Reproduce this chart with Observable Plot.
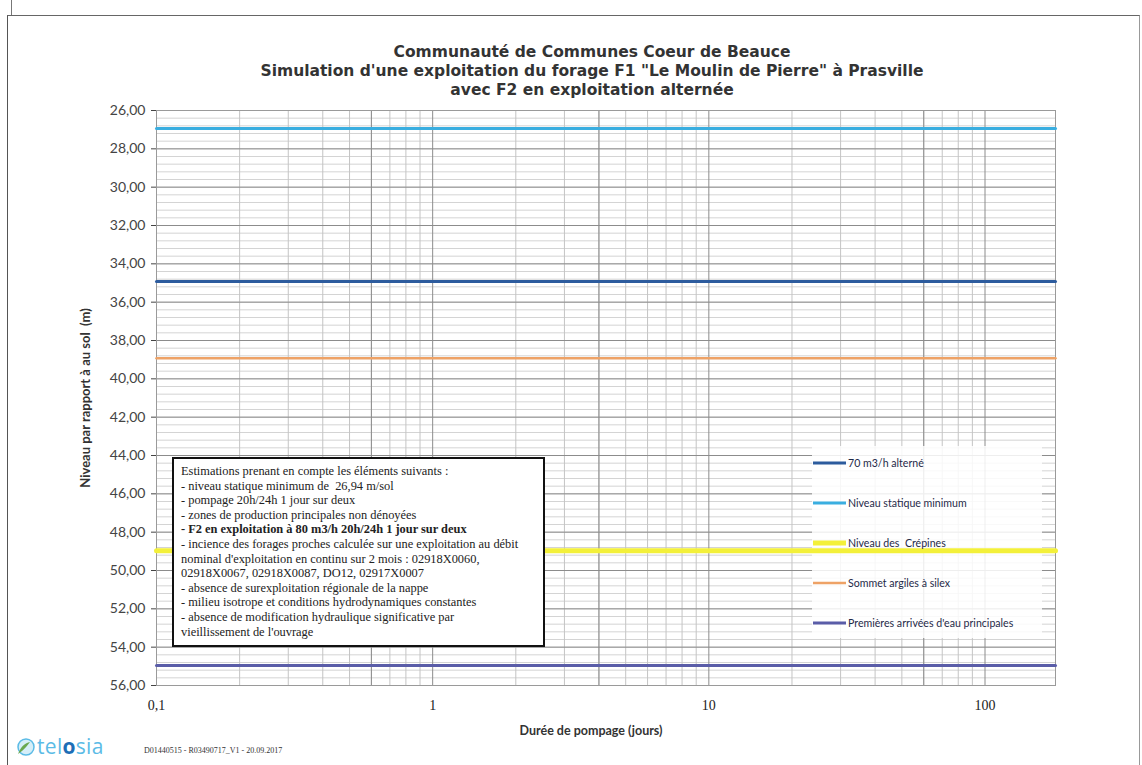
<!DOCTYPE html>
<html>
<head>
<meta charset="utf-8">
<script src="https://cdn.jsdelivr.net/npm/d3@7"></script>
<script src="https://cdn.jsdelivr.net/npm/@observablehq/plot@0.6"></script>
<style>
  html, body { margin: 0; padding: 0; background: #fff; }
  #wrap { position: relative; width: 1142px; height: 765px; overflow: hidden; }
  #chart { position: absolute; left: 0; top: 0; }
  .pageframe { position: absolute; left: 7px; top: 15px; width: 1133px; height: 760px;
    border-left: 1.5px solid #555; border-top: 1.5px solid #666; border-right: 1px solid #999; box-sizing: border-box; }
  .topmark { position: absolute; left: 11px; top: 0; width: 1px; height: 15px; background: #777; }
  #note { position: absolute; left: 172px; top: 457px; width: 373px; height: 190px; box-sizing: border-box;
    background: #fff; border: 2px solid #111; padding: 5px 7px;
    font-family: "Liberation Serif", "DejaVu Serif", serif; font-size: 12.4px; line-height: 14.6px; color: #222; white-space: pre; }
  #note b { font-weight: bold; }
  #logo { position: absolute; left: 15px; top: 736px; display: flex; align-items: center; }
  #logo .word { font-family: "Open Sans", sans-serif; font-size: 21px; font-weight: 400; color: #5bbbe6; letter-spacing: 0.3px; line-height: 21px; }
  #logo .word .o { color: #1d6eb6; font-weight: 700; }
  #ref { position: absolute; left: 144px; top: 746px; font-family: "Liberation Serif", serif; font-size: 8px; color: #333; }
</style>
</head>
<body>
<div id="wrap">
  <div id="chart"></div>
  <div class="pageframe"></div>
  <div class="topmark"></div>
  <div id="note"></div>
  <div id="logo">
    <svg width="22" height="20" viewBox="0 0 22 20">
      <circle cx="11" cy="10" r="8" fill="#d6eef8" stroke="#5bbbe6" stroke-width="1.5"/>
      <path d="M3 17 C 6 9, 10 6, 15 5 C 12 9, 9 13, 3 17 Z" fill="#6aa84f"/>
    </svg>
    <span class="word">tel<span class="o">o</span>sia</span>
  </div>
  <div id="ref">D01440515 - R03490717_V1 - 20.09.2017</div>
</div>
<script>
// ---- Data ----
const days = [0.1, 1, 10, 100, 180];
const seriesNames = [
  "70 m3/h alterné",
  "Niveau statique minimum",
  "Niveau des  Crépines",
  "Sommet argiles à silex",
  "Premières arrivées d'eau principales"
];
const alterne70 = [34.92, 34.92, 34.92, 34.92, 34.92];
const statiqueMin = [26.94, 26.94, 26.94, 26.94, 26.94];
const crepines = [48.97, 48.97, 48.97, 48.97, 48.97];
const argilesSilex = [38.92, 38.92, 38.92, 38.92, 38.92];
const arriveesEau = [54.95, 54.95, 54.95, 54.95, 54.95];
const seriesValues = [alterne70, statiqueMin, crepines, argilesSilex, arriveesEau];

const yTicks = [26, 28, 30, 32, 34, 36, 38, 40, 42, 44, 46, 48, 50, 52, 54, 56];
const xTicks = [0.1, 1, 10, 100];
const xTickLabels = ["0,1", "1", "10", "100"];
const xGridMinor = [0.2, 0.3, 0.4, 0.5, 0.6, 0.7, 0.8, 0.9, 2, 3, 4, 5, 6, 7, 8, 9, 20, 30, 40, 50, 60, 70, 80, 90];
const xGridDark = [0.6, 1, 4, 10, 60, 100];
const yGridMinor = d3.range(26, 56.001, 0.4);

const titleText = "Communauté de Communes Coeur de Beauce\nSimulation d'une exploitation du forage F1 \"Le Moulin de Pierre\" à Prasville\navec F2 en exploitation alternée";
const yLabel = "Niveau par rapport à au sol  (m)";
const xLabel = "Durée de pompage (jours)";

const noteLines = [
  "Estimations prenant en compte les éléments suivants :",
  "- niveau statique minimum de  26,94 m/sol",
  "- pompage 20h/24h 1 jour sur deux",
  "- zones de production principales non dénoyées",
  "<b>- F2 en exploitation à 80 m3/h 20h/24h 1 jour sur deux</b>",
  "- incience des forages proches calculée sur une exploitation au débit",
  "nominal d'exploitation en continu sur 2 mois : 02918X0060,",
  "02918X0067, 02918X0087, DO12, 02917X0007",
  "- absence de surexploitation régionale de la nappe",
  "- milieu isotrope et conditions hydrodynamiques constantes",
  "- absence de modification hydraulique significative par",
  "vieillissement de l'ouvrage"
];

// ---- Styles ----
const colors = ["#2d5c9e", "#3aaee0", "#f3f03a", "#eea266", "#5a5da8"];
const widths = [3, 3, 5, 2.5, 3];

const rows = [];
seriesNames.forEach((name, i) => {
  days.forEach((d, j) => rows.push({series: name, day: d, level: seriesValues[i][j]}));
});

document.getElementById("note").innerHTML = noteLines.join("\n");

function legendBg() {
  return d3.create("svg:rect")
    .attr("x", 812).attr("y", 446).attr("width", 230).attr("height", 192)
    .attr("fill", "white").attr("fill-opacity", 0.85).node();
}
function legendContent() {
  const g = d3.create("svg:g").attr("text-anchor", "start");
  seriesNames.forEach((name, i) => {
    const y = 463 + i * 40;
    g.append("line").attr("x1", 813).attr("x2", 846).attr("y1", y).attr("y2", y)
      .attr("stroke", colors[i]).attr("stroke-width", widths[i]);
    g.append("text").attr("x", 848).attr("y", y).attr("dy", "0.35em")
      .attr("text-anchor", "start")
      .attr("font-family", "Lato, sans-serif").attr("font-size", 10.6)
      .attr("fill", "#1f2a48").style("white-space", "pre").text(name);
  });
  return g.node();
}

const lineMarks = seriesNames.map((name, i) =>
  Plot.line(rows.filter(r => r.series === name), {x: "day", y: "level", stroke: colors[i], strokeWidth: widths[i]})
);

const chart = Plot.plot({
  width: 1142,
  height: 765,
  marginTop: 110,
  marginLeft: 156,
  marginRight: 87,
  marginBottom: 80,
  style: {fontFamily: "Lato, sans-serif", background: "white", color: "#333"},
  x: {type: "log", domain: [0.1, 180]},
  y: {domain: [26, 56], reverse: true},
  marks: [
    Plot.ruleY(yGridMinor, {stroke: "#d4d4d4", strokeWidth: 1}),
    Plot.ruleX(xGridMinor, {stroke: "#c4c4c4", strokeWidth: 1}),
    Plot.ruleY(yTicks, {stroke: "#8c8c8c", strokeWidth: 1}),
    Plot.ruleX(xGridDark, {stroke: "#8c8c8c", strokeWidth: 1}),
    Plot.frame({stroke: "#9a9a9a"}),
    Plot.axisY(yTicks, {tickFormat: d => d.toFixed(2).replace(".", ","), tickSize: 5, tickPadding: 6,
      fontSize: 14, color: "#444", label: null}),
    Plot.axisX(xTicks, {tickFormat: d => xTickLabels[xTicks.indexOf(d)], tickSize: 0, tickPadding: 15,
      fontSize: 14, fontFamily: "Liberation Serif, serif", color: "#222", label: null}),
    legendBg,
    ...lineMarks,
    legendContent,
    Plot.text([titleText], {text: d => d, frameAnchor: "top", lineAnchor: "bottom", dy: -16, dx: -14,
      fontSize: 15.5, fontWeight: "bold", fontFamily: "DejaVu Sans, sans-serif", fill: "#333", lineHeight: 1.2}),
    Plot.text([yLabel], {text: d => d, frameAnchor: "left", textAnchor: "middle", rotate: -90, dx: -71,
      fontSize: 13, fontWeight: "bold", fill: "#333"}),
    Plot.text([xLabel], {text: d => d, frameAnchor: "bottom", dy: 49, dx: -15,
      fontSize: 12.5, fontWeight: "bold", fill: "#333"})
  ]
});
document.getElementById("chart").appendChild(chart);
</script>
</body>
</html>
